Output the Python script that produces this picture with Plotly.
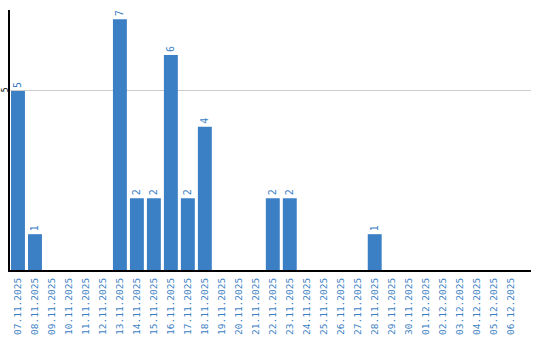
import plotly.graph_objects as go

dates = ["07.11.2025","08.11.2025","09.11.2025","10.11.2025","11.11.2025","12.11.2025",
         "13.11.2025","14.11.2025","15.11.2025","16.11.2025","17.11.2025","18.11.2025",
         "19.11.2025","20.11.2025","21.11.2025","22.11.2025","23.11.2025","24.11.2025",
         "25.11.2025","26.11.2025","27.11.2025","28.11.2025","29.11.2025","30.11.2025",
         "01.12.2025","02.12.2025","03.12.2025","04.12.2025","05.12.2025","06.12.2025"]
counts = [5, 1, 0, 0, 0, 0, 7, 2, 2, 6, 2, 4, 0, 0, 0, 2, 2, 0, 0, 0, 0, 1, 0, 0, 0, 0, 0, 0, 0, 0]

labels = [str(v) if v else "" for v in counts]
blue = "#3b7fc4"

fig = go.Figure(go.Bar(
    x=dates, y=counts, text=labels, textposition="outside",
    textangle=-90, cliponaxis=False,
    textfont=dict(family="DejaVu Sans Mono", size=10, color=blue),
    marker=dict(color=blue, line=dict(width=0)),
    width=0.82,
))
fig.update_layout(
    width=540, height=340,
    margin=dict(l=10, r=9, t=10, b=70),
    plot_bgcolor="white", paper_bgcolor="white",
    showlegend=False,
    xaxis=dict(type="category", range=[-0.47, 30.2], tickangle=-90, automargin=False,
               tickfont=dict(family="DejaVu Sans Mono", size=9.5, color=blue),
               showline=True, linecolor="black", linewidth=2, showgrid=False,
               ticks="", ticklen=0, ticklabelstandoff=2),
    yaxis=dict(range=[0, 7.26], tickvals=[5], ticktext=["5"], tickangle=-90, automargin=False,
               tickfont=dict(family="DejaVu Sans Mono", size=8, color="black"),
               showline=True, linecolor="black", linewidth=2,
               showgrid=True, gridcolor="#cccccc", gridwidth=1,
               zeroline=False, ticks="", ticklen=0, ticklabelstandoff=-3),
)
fig.write_html("out.html")
